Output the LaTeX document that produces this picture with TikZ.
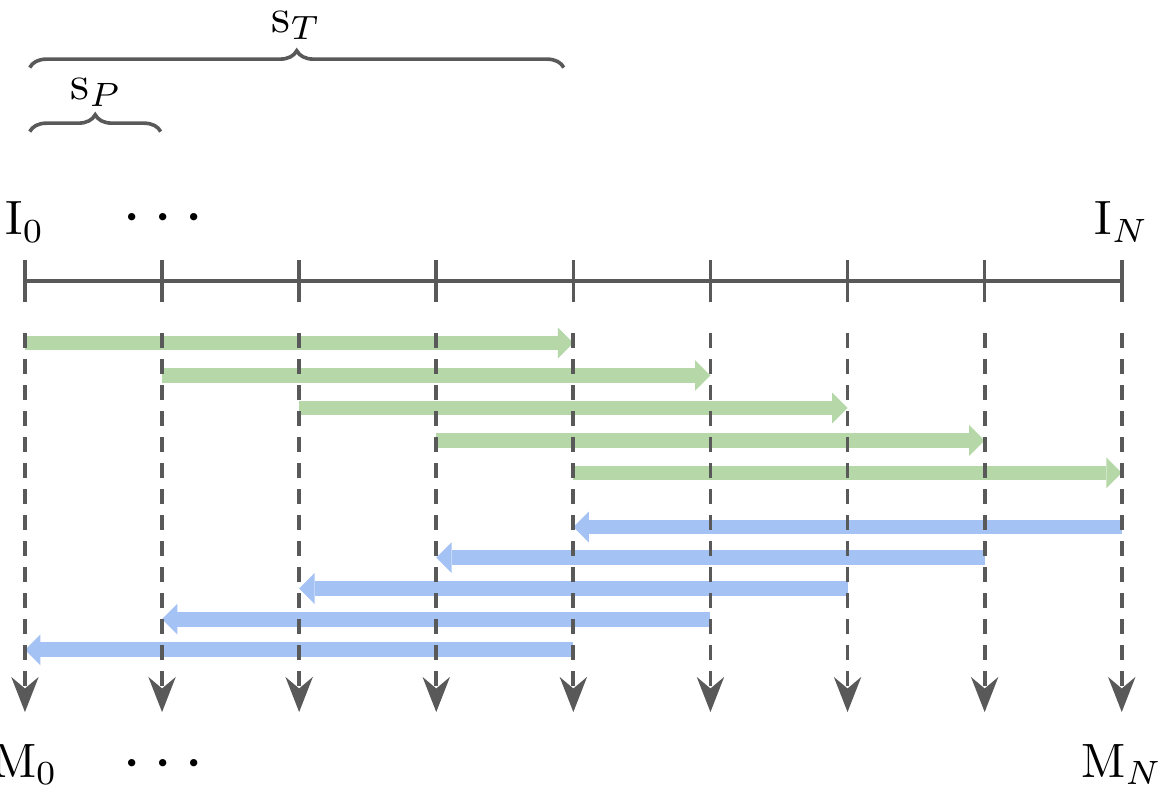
\documentclass[tikz,border=0pt]{standalone}
\usepackage{amsmath}
\usepackage{amssymb}
\usepackage{tikz}
\usepackage{xcolor}
\usetikzlibrary{arrows.meta,decorations.pathreplacing}
\definecolor{axis-gray}{HTML}{595959}
\definecolor{fwd-green}{HTML}{B6D7A8}
\definecolor{bwd-blue}{HTML}{A4C2F4}
\tikzset{
    axis-line/.style = {draw=axis-gray, line width=0.75pt},
    drop-line/.style = {draw=axis-gray, line width=0.8pt, dash pattern=on 3pt off 2.4pt, -{Stealth[length=7.3pt, width=5.7pt, inset=2.4pt, line width=0pt]}},
    fwd-arrow/.style = {draw=fwd-green, line width=3.1pt, -{Triangle[length=3.2pt, width=6.4pt, line width=0pt]}},
    bwd-arrow/.style = {draw=bwd-blue, line width=3.1pt, -{Triangle[length=3.2pt, width=6.4pt, line width=0pt]}},
    span-brace/.style = {draw=axis-gray, line width=0.75pt, decorate, decoration={brace, amplitude=3.5pt}},
    end-label/.style = {anchor=base, inner sep=0pt},
    dots-label/.style = {font=\Large, inner sep=0pt},
}

\begin{document}
\begin{tikzpicture}
\useasboundingbox (-0.182,-3.742) rectangle (8.279,2.050);
% positions on the time axis
\foreach \i in {0,...,8} {
    \coordinate (t\i) at (\i,0);
    \coordinate (t\i-up) at (\i,0.153);
    \coordinate (t\i-down) at (\i,-0.153);
    \coordinate (t\i-top) at (\i,-0.38);
    \coordinate (t\i-bot) at (\i,-3.144);
}
% rows of the windows
\foreach \j in {1,...,5} {
    \coordinate (fwd\j) at (0,{-0.452-0.237*(\j-1)});
    \coordinate (bwd\j) at (0,{-1.794-0.224*(\j-1)});
}

% forward and backward windows
\foreach \j [evaluate=\j as \s using int(\j-1), evaluate=\j as \e using int(\j+3)] in {1,...,5}
    \draw[fwd-arrow] (t\s |- fwd\j) -- (t\e |- fwd\j);
\foreach \j [evaluate=\j as \s using int(9-\j), evaluate=\j as \e using int(5-\j)] in {1,...,5}
    \draw[bwd-arrow] (t\s |- bwd\j) -- (t\e |- bwd\j);

% axis with ticks
\draw[axis-line] (t0) -- (t8);
\foreach \i in {0,...,8}
    \draw[axis-line] (t\i-down) -- (t\i-up);

% outputs
\foreach \i in {0,...,8}
    \draw[drop-line] (t\i-top) -- (t\i-bot);

% labels
\node[end-label] (in-first) at (0,0.336) {$\mathrm{I}_0$};
\node[end-label] (in-last) at (8,0.336) {$\mathrm{I}_N$};
\node[dots-label] (in-dots) at (1.05,0.452) {$\cdots$};
\node[end-label] (out-first) at (0,-3.618) {$\mathrm{M}_0$};
\node[end-label] (out-last) at (8,-3.618) {$\mathrm{M}_N$};
\node[dots-label] (out-dots) at (1.05,-3.53) {$\cdots$};

% step and window sizes
\draw[span-brace] (0.035,1.09) -- (0.99,1.09);
\node[end-label] (step-size) at (0.52,1.327) {$\mathrm{s}_P$};
\draw[span-brace] (0.035,1.557) -- (3.93,1.557);
\node[end-label] (window-size) at (1.98,1.816) {$\mathrm{s}_T$};
\end{tikzpicture}
\end{document}
